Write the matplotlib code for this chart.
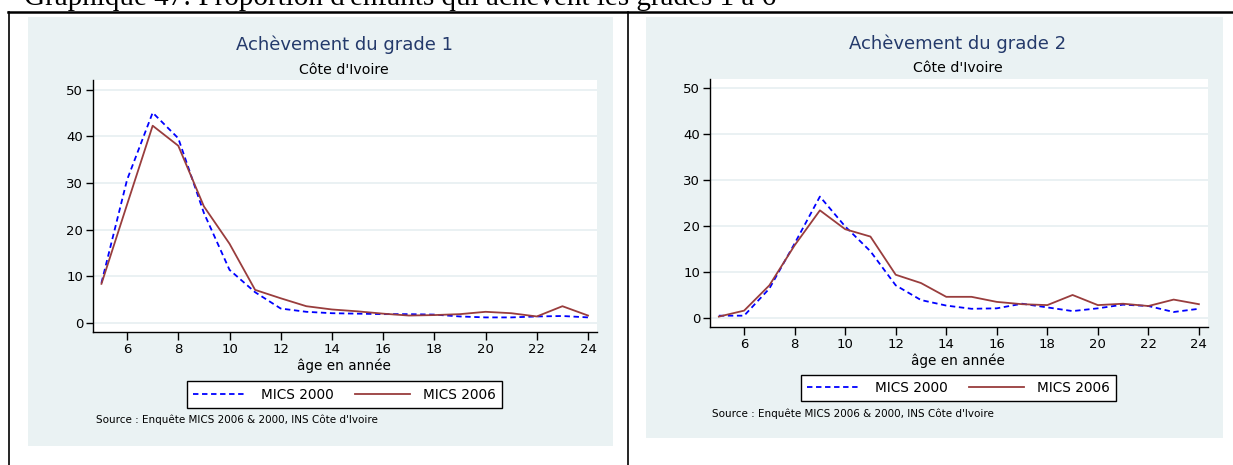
import matplotlib
matplotlib.use("Agg")
import matplotlib.pyplot as plt
from matplotlib.patches import Rectangle
from matplotlib.lines import Line2D

# ── Data ──────────────────────────────────────────────────────────────────────

ages = list(range(5, 25))

grade1_mics2000 = [8.6, 30.7, 45.1, 39.6, 23.6, 11.4, 6.6, 3.1, 2.4, 2.1,
                   2.0, 1.9, 1.9, 1.8, 1.4, 1.2, 1.2, 1.4, 1.5, 1.2]
grade1_mics2006 = [8.4, 25.4, 42.3, 38.0, 25.0, 17.0, 7.1, 5.3, 3.6, 2.9,
                   2.5, 2.0, 1.6, 1.7, 1.9, 2.4, 2.1, 1.4, 3.6, 1.6]

grade2_mics2000 = [0.5, 0.5, 6.4, 16.2, 26.4, 19.9, 14.5, 7.1, 3.9, 2.7,
                   2.0, 2.1, 3.1, 2.3, 1.5, 2.1, 2.9, 2.6, 1.3, 2.0]
grade2_mics2006 = [0.3, 1.6, 7.1, 15.8, 23.4, 19.3, 17.7, 9.4, 7.6, 4.6,
                   4.6, 3.5, 3.0, 2.8, 5.0, 2.8, 3.1, 2.6, 4.0, 3.0]

series_labels = ["MICS 2000", "MICS 2006"]
panel_titles = ["Achèvement du grade 1", "Achèvement du grade 2"]
subtitle = "Côte d'Ivoire"
xlabel = "âge en année"
source = "Source : Enquête MICS 2006 & 2000, INS Côte d'Ivoire"
heading = "Graphique 47: Proportion d'enfants qui achèvent les grades 1 à 6"

xticks = [6, 8, 10, 12, 14, 16, 18, 20, 22, 24]
yticks = [0, 10, 20, 30, 40, 50]

# ── Style ─────────────────────────────────────────────────────────────────────

W, H = 1233, 465
BG = "#EAF2F3"
GRID = "#E6EFF1"
TITLE_C = "#243A6B"
BLUE = "#0000FF"
RED = "#993D3D"

plt.rcParams["font.family"] = ["DejaVu Sans"]


def fx(px):
    return px / W


def fy(py):
    return 1 - py / H


# panel geometry in pixels: grey box, plot area, legend centre, text rows
PANELS = [
    dict(grey=(28, 17, 613, 446), plot=(93, 80, 597, 332),
         xlim=(4.67, 24.35), ylim=(-1.93, 52.1),
         cx=344, title_y=45, sub_y=70, xlab_y=366,
         leg=(344.5, 394.5), src=(96, 420)),
    dict(grey=(646, 17, 1223, 438), plot=(710, 79, 1208, 327),
         xlim=(4.65, 24.36), ylim=(-1.96, 51.96),
         cx=958, title_y=44, sub_y=68, xlab_y=361,
         leg=(958.5, 388), src=(712, 414)),
]

data = [(grade1_mics2000, grade1_mics2006), (grade2_mics2000, grade2_mics2006)]

# ── Figure ────────────────────────────────────────────────────────────────────

fig = plt.figure(figsize=(W / 100, H / 100), dpi=100)
fig.patch.set_facecolor("white")

# page frame lines
fig.add_artist(Line2D([fx(8), 1], [fy(12), fy(12)], color="black", lw=1.8))
fig.add_artist(Line2D([fx(9), fx(9)], [fy(12), 0], color="black", lw=1.2))
fig.add_artist(Line2D([fx(628), fx(628)], [fy(12), 0], color="black", lw=1.2))

# document caption above the charts, cropped at the top edge as in the page
fig.text(fx(24), fy(5), heading, family="Liberation Serif", fontsize=21,
         va="baseline", ha="left", color="black")

for p, (s2000, s2006), title in zip(PANELS, data, panel_titles):
    gx0, gy0, gx1, gy1 = p["grey"]
    fig.add_artist(Rectangle((fx(gx0), fy(gy1)), fx(gx1 - gx0), (gy1 - gy0) / H,
                             facecolor=BG, edgecolor="none", zorder=0))

    x0, y0, x1, y1 = p["plot"]
    ax = fig.add_axes([fx(x0), fy(y1), fx(x1 - x0), (y1 - y0) / H])
    ax.set_facecolor("white")

    ax.plot(ages, s2000, color=BLUE, lw=1.3, linestyle=(0, (3, 2)), label=series_labels[0])
    ax.plot(ages, s2006, color=RED, lw=1.3, label=series_labels[1])

    ax.set_xlim(*p["xlim"])
    ax.set_ylim(*p["ylim"])
    ax.set_xticks(xticks)
    ax.set_yticks(yticks)
    ax.yaxis.grid(True, color=GRID, lw=1.2)
    ax.set_axisbelow(True)
    ax.tick_params(axis="both", labelsize=9.5, color="black", width=1)
    ax.tick_params(axis="y", length=5, pad=2)
    ax.tick_params(axis="x", length=6, pad=2)
    ax.spines["top"].set_visible(False)
    ax.spines["right"].set_visible(False)
    ax.spines["left"].set_linewidth(1)
    ax.spines["bottom"].set_linewidth(1)

    fig.text(fx(p["cx"]), fy(p["title_y"]), title, fontsize=13, color=TITLE_C,
             ha="center", va="center")
    fig.text(fx(p["cx"]), fy(p["sub_y"]), subtitle, fontsize=10.2, color="black",
             ha="center", va="center")
    fig.text(fx(p["cx"]), fy(p["xlab_y"]), xlabel, fontsize=9.8, color="black",
             ha="center", va="center")
    fig.text(fx(p["src"][0]), fy(p["src"][1]), source, fontsize=7.5, color="black",
             ha="left", va="center")

    leg = ax.legend(loc="center", bbox_to_anchor=(fx(p["leg"][0]), fy(p["leg"][1])),
                    bbox_transform=fig.transFigure, ncol=2, fontsize=9.8,
                    frameon=True, fancybox=False, handlelength=4.0,
                    handletextpad=1.0, columnspacing=1.6, borderpad=0.45,
                    borderaxespad=0)
    leg.get_frame().set_edgecolor("black")
    leg.get_frame().set_linewidth(1)
    leg.get_frame().set_facecolor("white")
    leg.get_frame().set_alpha(1)

fig.savefig("out.png", dpi=100)
plt.close(fig)
